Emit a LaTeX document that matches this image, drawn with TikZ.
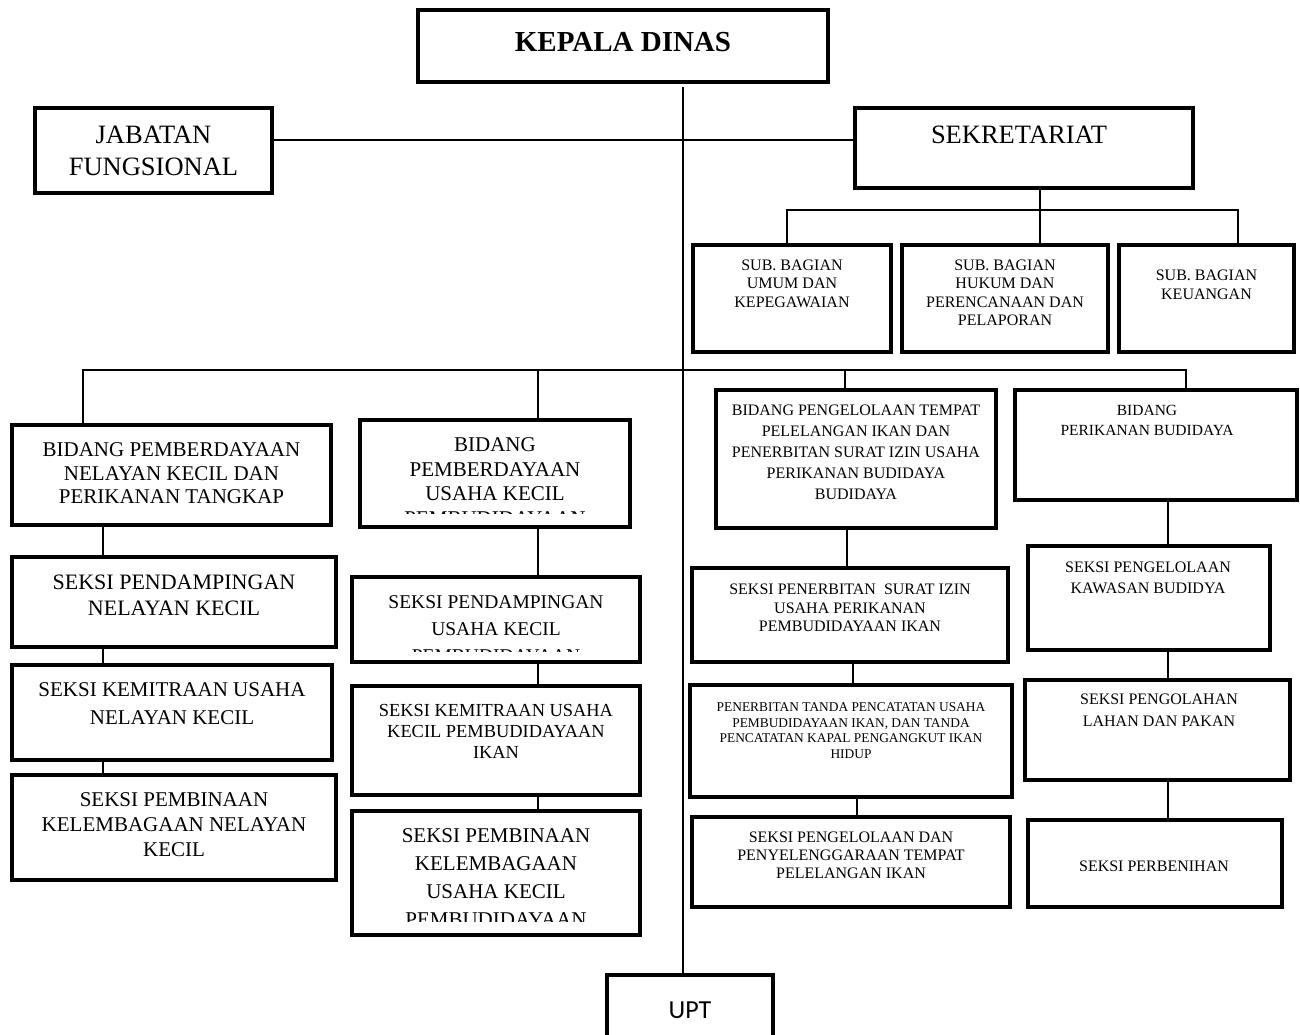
\documentclass[tikz,border=0pt]{standalone}
\usepackage{fontspec}
\setmainfont{Liberation Serif}
\newfontfamily\uptfont{Carlito}
\tikzset{
    box/.style={draw, line width=4pt, inner sep=0pt},
    lbl/.style={align=center, inner sep=0pt},
    link/.style={line width=1.3pt},
}
\newcommand{\fs}[2]{\fontsize{#1}{#2}\selectfont}
\begin{document}
\begin{tikzpicture}[x=1pt, y=-1pt]
    \useasboundingbox (0,0) rectangle (1300,1034);
    % top
    \node[box, minimum width=410, minimum height=72] (kepala) at (623,46) {};
    \node[lbl, font=\bfseries\fs{29}{34}] (kepala-t) at (623,42) {KEPALA DINAS};
    \node[box, minimum width=237, minimum height=85] (jab) at (153.5,150.5) {};
    \node[lbl, font=\fs{26.5}{32}] (jab-t) at (153.5,151) {JABATAN\\FUNGSIONAL};
    \node[box, minimum width=338, minimum height=80] (sek) at (1024,148) {};
    \node[lbl, font=\fs{26.5}{32}] (sek-t) at (1019,135) {SEKRETARIAT};
    % sub bagian
    \node[box, minimum width=198, minimum height=107] (sub1) at (792,298.5) {};
    \node[lbl, font=\fs{16}{18.5}] (sub1-t) at (792,283.5) {SUB. BAGIAN\\UMUM DAN\\KEPEGAWAIAN};
    \node[box, minimum width=206, minimum height=107] (sub2) at (1005,298.5) {};
    \node[lbl, font=\fs{16}{18.5}] (sub2-t) at (1005,293) {SUB. BAGIAN\\HUKUM DAN\\PERENCANAAN DAN\\PELAPORAN};
    \node[box, minimum width=175, minimum height=107] (sub3) at (1206.5,298.5) {};
    \node[lbl, font=\fs{16}{19}] (sub3-t) at (1206.5,284.5) {SUB. BAGIAN\\KEUANGAN};
    % column 1
    \node[box, minimum width=319, minimum height=100] (b1) at (171.5,475) {};
    \node[lbl, font=\fs{21}{23.5}] (b1-t) at (171.5,473.5) {BIDANG PEMBERDAYAAN\\NELAYAN KECIL DAN\\PERIKANAN TANGKAP};
    \node[box, minimum width=324, minimum height=90] (s1a) at (174,602) {};
    \node[lbl, font=\fs{22}{26}] (s1a-t) at (174,595) {SEKSI PENDAMPINGAN\\NELAYAN KECIL};
    \node[box, minimum width=320, minimum height=95] (s1b) at (172,712.5) {};
    \node[lbl, font=\fs{21}{28}] (s1b-t) at (172,704) {SEKSI KEMITRAAN USAHA\\NELAYAN KECIL};
    \node[box, minimum width=324, minimum height=105] (s1c) at (174,827.5) {};
    \node[lbl, font=\fs{21}{25}] (s1c-t) at (174,825) {SEKSI PEMBINAAN\\KELEMBAGAAN NELAYAN\\KECIL};
    % column 2
    \node[box, minimum width=270, minimum height=107] (b2) at (495,473.5) {};
    \begin{scope}
        \clip (362,424) rectangle (628,513);
        \node[lbl, font=\fs{21}{24.5}] (b2-t) at (495,481.5) {BIDANG\\PEMBERDAYAAN\\USAHA KECIL\\PEMBUDIDAYAAN};
    \end{scope}
    \node[box, minimum width=288, minimum height=85] (s2a) at (496,619.5) {};
    \begin{scope}
        \clip (354,581) rectangle (638,651);
        \node[lbl, font=\fs{19.5}{27}] (s2a-t) at (496,629) {SEKSI PENDAMPINGAN\\USAHA KECIL\\PEMBUDIDAYAAN};
    \end{scope}
    \node[box, minimum width=288, minimum height=109] (s2b) at (496,740.5) {};
    \node[lbl, font=\fs{18.4}{21}] (s2b-t) at (496,731) {SEKSI KEMITRAAN USAHA\\KECIL PEMBUDIDAYAAN\\IKAN};
    \node[box, minimum width=288, minimum height=124] (s2c) at (496,873) {};
    \begin{scope}
        \clip (354,815) rectangle (638,921);
        \node[lbl, font=\fs{21}{28}] (s2c-t) at (496,878) {SEKSI PEMBINAAN\\KELEMBAGAAN\\USAHA KECIL\\PEMBUDIDAYAAN};
    \end{scope}
    % column 3
    \node[box, minimum width=280, minimum height=138] (b3) at (856,459) {};
    \node[lbl, font=\fs{16}{21}] (b3-t) at (856,452) {BIDANG PENGELOLAAN TEMPAT\\PELELANGAN IKAN DAN\\PENERBITAN SURAT IZIN USAHA\\PERIKANAN BUDIDAYA\\BUDIDAYA};
    \node[box, minimum width=316, minimum height=94] (s3a) at (850,615) {};
    \node[lbl, font=\fs{16}{18.5}] (s3a-t) at (850,608) {SEKSI PENERBITAN\ \ SURAT IZIN\\USAHA PERIKANAN\\PEMBUDIDAYAAN IKAN};
    \node[box, minimum width=322, minimum height=112] (s3b) at (851,741) {};
    \node[lbl, font=\fs{13.4}{15.7}] (s3b-t) at (851,730.5) {PENERBITAN TANDA PENCATATAN USAHA\\PEMBUDIDAYAAN IKAN, DAN TANDA\\PENCATATAN KAPAL PENGANGKUT IKAN\\HIDUP};
    \node[box, minimum width=318, minimum height=90] (s3c) at (851,862) {};
    \node[lbl, font=\fs{16}{18}] (s3c-t) at (851,855) {SEKSI PENGELOLAAN DAN\\PENYELENGGARAAN TEMPAT\\PELELANGAN IKAN};
    % column 4
    \node[box, minimum width=282, minimum height=110] (b4) at (1156,445) {};
    \node[lbl, font=\fs{15.5}{20}] (b4-t) at (1147,420) {BIDANG\\PERIKANAN BUDIDAYA};
    \node[box, minimum width=242, minimum height=104] (s4a) at (1149,598) {};
    \node[lbl, font=\fs{16}{21}] (s4a-t) at (1148,577.5) {SEKSI PENGELOLAAN\\KAWASAN BUDIDYA};
    \node[box, minimum width=265, minimum height=100] (s4b) at (1157.5,730) {};
    \node[lbl, font=\fs{16}{22}] (s4b-t) at (1159,710) {SEKSI PENGOLAHAN\\LAHAN DAN PAKAN};
    \node[box, minimum width=254, minimum height=87] (s4c) at (1155,863.5) {};
    \node[lbl, font=\fs{16}{19}] (s4c-t) at (1154,866) {SEKSI PERBENIHAN};
    % upt
    \node[box, minimum width=166, minimum height=65] (upt) at (690,1007.5) {};
    \node[lbl, font=\uptfont\fs{26}{30}] (upt-t) at (690,1010) {UPT};
    % connectors
    \coordinate (top) at (683,87);
    \draw[link] (top) -- (top |- upt.north);
    \draw[link] (jab.east |- 0,140) -- (sek.west |- 0,140);
    \coordinate (g1) at (787,210);
    \coordinate (g2) at (1040,210);
    \coordinate (g3) at (1238,210);
    \draw[link] (sek.south -| g2) -- (g2 |- sub2.north);
    \draw[link] (g1 |- sub1.north) -- (g1) -- (g3) -- (g3 |- sub3.north);
    \coordinate (c1) at (83,370);
    \coordinate (c2) at (538,370);
    \coordinate (c3) at (845,370);
    \coordinate (c4) at (1186,370);
    \draw[link] (c1 |- b1.north) -- (c1) -- (c4) -- (c4 |- b4.north);
    \draw[link] (c2) -- (c2 |- b2.north);
    \draw[link] (c3) -- (c3 |- b3.north);
    \coordinate (k1) at (103,0);
    \draw[link] (k1 |- b1.south) -- (k1 |- s1a.north);
    \draw[link] (k1 |- s1a.south) -- (k1 |- s1b.north);
    \draw[link] (k1 |- s1b.south) -- (k1 |- s1c.north);
    \draw[link] (c2 |- b2.south) -- (c2 |- s2a.north);
    \draw[link] (c2 |- s2a.south) -- (c2 |- s2b.north);
    \draw[link] (c2 |- s2b.south) -- (c2 |- s2c.north);
    \coordinate (k3a) at (847,0);
    \coordinate (k3b) at (853,0);
    \coordinate (k3c) at (857,0);
    \draw[link] (k3a |- b3.south) -- (k3a |- s3a.north);
    \draw[link] (k3b |- s3a.south) -- (k3b |- s3b.north);
    \draw[link] (k3c |- s3b.south) -- (k3c |- s3c.north);
    \coordinate (k4) at (1168,0);
    \draw[link] (k4 |- b4.south) -- (k4 |- s4a.north);
    \draw[link] (k4 |- s4a.south) -- (k4 |- s4b.north);
    \draw[link] (k4 |- s4b.south) -- (k4 |- s4c.north);
\end{tikzpicture}
\end{document}
